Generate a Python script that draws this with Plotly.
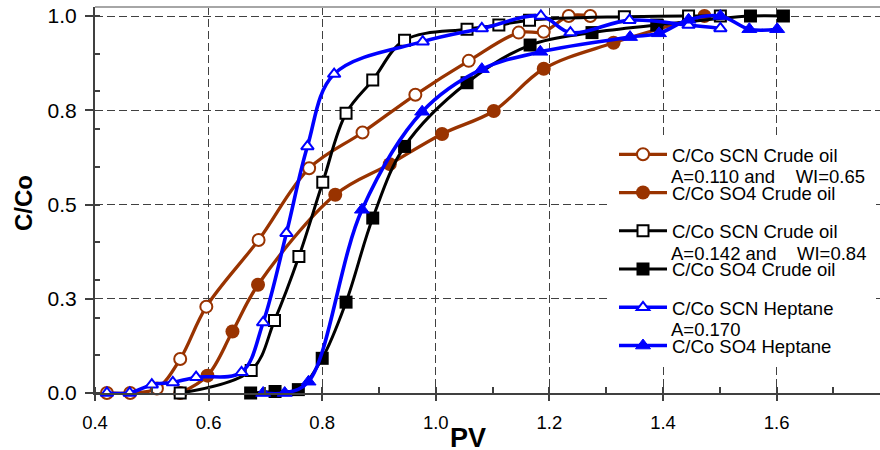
import plotly.graph_objects as go

# ---------------- data ----------------
brown_scn_x = [0.421, 0.462, 0.509, 0.550, 0.596, 0.688, 0.777, 0.871, 0.964, 1.058, 1.146, 1.190, 1.234, 1.272]
brown_scn_y = [0.000, 0.000, 0.012, 0.090, 0.229, 0.406, 0.596, 0.691, 0.791, 0.881, 0.956, 0.958, 1.000, 1.000]

brown_so4_x = [0.550, 0.598, 0.642, 0.687, 0.823, 0.919, 1.011, 1.102, 1.190, 1.313, 1.473]
brown_so4_y = [0.000, 0.046, 0.163, 0.287, 0.526, 0.607, 0.687, 0.748, 0.860, 0.929, 1.000]

black_scn_x = [0.550, 0.675, 0.716, 0.759, 0.801, 0.842, 0.889, 0.945, 1.055, 1.111, 1.165, 1.332, 1.445, 1.501]
black_scn_y = [0.000, 0.060, 0.192, 0.362, 0.559, 0.742, 0.830, 0.936, 0.965, 0.976, 0.989, 0.998, 1.000, 1.000]

black_so4_x = [0.674, 0.717, 0.758, 0.800, 0.842, 0.889, 0.945, 1.055, 1.166, 1.275, 1.389, 1.554, 1.612]
black_so4_y = [0.000, 0.004, 0.009, 0.092, 0.241, 0.464, 0.654, 0.823, 0.923, 0.956, 0.976, 1.000, 1.000]

blue_scn_x = [0.421, 0.461, 0.500, 0.537, 0.578, 0.658, 0.696, 0.737, 0.774, 0.821, 0.977, 1.081, 1.185, 1.237, 1.341, 1.445, 1.501]
blue_scn_y = [0.000, 0.000, 0.022, 0.028, 0.042, 0.055, 0.187, 0.424, 0.654, 0.846, 0.932, 0.967, 1.000, 0.956, 0.989, 0.976, 0.967]

blue_so4_x = [0.696, 0.734, 0.776, 0.870, 0.976, 1.081, 1.184, 1.342, 1.393, 1.445, 1.501, 1.552, 1.601]
blue_so4_y = [0.000, 0.000, 0.030, 0.486, 0.746, 0.859, 0.905, 0.944, 0.954, 0.990, 1.000, 0.965, 0.965]

series_names = ["C/Co SCN Crude oil", "C/Co SO4 Crude oil",
                "C/Co SCN Crude oil", "C/Co SO4 Crude oil",
                "C/Co SCN Heptane", "C/Co SO4 Heptane"]
group_notes = ["A=0.110 and&nbsp;&nbsp;&nbsp; WI=0.65",
               "A=0.142 and&nbsp;&nbsp;&nbsp; WI=0.84",
               "A=0.170"]

y_tickvals = [0, 0.25, 0.5, 0.75, 1.0]
y_ticktext = ["0.0", "0.3", "0.5", "0.8", "1.0"]

x_title = "PV"
y_title = "C/Co"

# ---------------- styling ----------------
BROWN = "#993300"
BLACK = "#000000"
BLUE = "#0000FF"
FONT = "Liberation Sans, Arial, sans-serif"
AXC = "#404040"
LEG_FS = 18.5

W, H = 880, 450
ML, MR, MT, MB = 95, 0, 7, 57

styles = [
    dict(color=BROWN, width=3.3, symbol="circle", size=12, fill="white", lw=2),
    dict(color=BROWN, width=3.3, symbol="circle", size=14, fill=BROWN, lw=0),
    dict(color=BLACK, width=3.0, symbol="square", size=11, fill="white", lw=2),
    dict(color=BLACK, width=3.0, symbol="square", size=13, fill=BLACK, lw=0),
    dict(color=BLUE, width=3.6, symbol="triangle-up", size=11, fill="white", lw=2),
    dict(color=BLUE, width=3.6, symbol="triangle-up", size=13, fill=BLUE, lw=1),
]
xs = [brown_scn_x, brown_so4_x, black_scn_x, black_so4_x, blue_scn_x, blue_so4_x]
ys = [brown_scn_y, brown_so4_y, black_scn_y, black_so4_y, blue_scn_y, blue_so4_y]

fig = go.Figure()
for i, (x, y, name, st) in enumerate(zip(xs, ys, series_names, styles)):
    fig.add_trace(go.Scatter(
        x=x, y=y, name=name, mode="lines+markers",
        legendgroup=f"g{i}",
        line=dict(color=st["color"], width=st["width"], shape="spline", smoothing=1.0),
        marker=dict(symbol=st["symbol"], size=st["size"], color=st["fill"],
                    line=dict(color=st["color"], width=st["lw"])),
        cliponaxis=False,
    ))

plot_h = H - MT - MB
plot_w = W - ML - MR


def px_to_paper_x(px):
    return (px - ML) / plot_w


def px_to_paper_y(py):
    return (H - MB - py) / plot_h


annotations = []
note_y_px = [176.7, 253.3, 329.3]
for note, ypx in zip(group_notes, note_y_px):
    annotations.append(dict(
        text=note, xref="paper", yref="paper",
        x=px_to_paper_x(669), y=px_to_paper_y(ypx),
        xanchor="left", yanchor="middle", showarrow=False,
        font=dict(family=FONT, size=LEG_FS, color="black")))

annotations.append(dict(
    text=f"<b>{x_title}</b>", xref="paper", yref="paper",
    x=px_to_paper_x(468), y=px_to_paper_y(438), xanchor="center", yanchor="middle",
    showarrow=False, font=dict(family=FONT, size=27, color="black")))
annotations.append(dict(
    text=f"<b>{y_title}</b>", xref="paper", yref="paper", textangle=-90,
    x=px_to_paper_x(23), y=px_to_paper_y(203), xanchor="center", yanchor="middle",
    showarrow=False, font=dict(family=FONT, size=24, color="black")))

shapes = [
    # white box behind the legend
    dict(type="rect", xref="paper", yref="paper", layer="above",
         x0=px_to_paper_x(608), x1=px_to_paper_x(876),
         y0=px_to_paper_y(363), y1=px_to_paper_y(137),
         fillcolor="white", line=dict(width=0)),
    # light grey top frame
    dict(type="line", xref="paper", yref="paper", layer="above",
         x0=0, x1=1, y0=1, y1=1, line=dict(color="#a6a6a6", width=2)),
]

item_h = max(LEG_FS * 1.3, 16) + 3
gap = 38.25 - item_h

fig.update_layout(
    width=W, height=H,
    margin=dict(l=ML, r=MR, t=MT, b=MB, pad=0, autoexpand=False),
    paper_bgcolor="white", plot_bgcolor="white",
    font=dict(family=FONT, color="black"),
    showlegend=True,
    legend=dict(
        x=px_to_paper_x(614), y=px_to_paper_y(154.3 - 5 - item_h / 2),
        xanchor="left", yanchor="top",
        bgcolor="rgba(0,0,0,0)", borderwidth=0,
        traceorder="grouped", tracegroupgap=gap,
        itemwidth=48,
        font=dict(family=FONT, size=LEG_FS, color="black"),
    ),
    annotations=annotations,
    shapes=shapes,
)

fig.update_xaxes(
    range=[0.4, 0.4 + plot_w / 568.0], automargin=False,
    tick0=0.4, dtick=0.2, tickformat=".1f",
    ticks="outside", ticklen=6, tickwidth=1.5, tickcolor=AXC,
    ticklabelstandoff=6,
    tickfont=dict(family=FONT, size=18.5, color="black"),
    showline=True, linecolor=AXC, linewidth=2,
    showgrid=True, gridcolor="#404040", gridwidth=1, griddash="8px,4px",
    zeroline=False,
    minor=dict(dtick=0.1, tick0=0.4, ticks="inside", ticklen=6, tickwidth=1.5,
               tickcolor=AXC, showgrid=False),
)
fig.update_yaxes(
    range=[0, (H - MB - MT) / 377.0], automargin=False,
    tickvals=y_tickvals, ticktext=y_ticktext,
    ticks="outside", ticklen=8, tickwidth=1.5, tickcolor=AXC,
    ticklabelstandoff=4,
    tickfont=dict(family=FONT, size=21, color="black"),
    showline=True, linecolor=AXC, linewidth=2,
    showgrid=True, gridcolor="#404040", gridwidth=1, griddash="8px,4px",
    zeroline=False,
    minor=dict(dtick=0.1, tick0=0, ticks="inside", ticklen=5, tickwidth=1.5,
               tickcolor=AXC, showgrid=False),
)

fig.write_html("out.html",
               config={"displayModeBar": False},
               post_script="document.body.style.margin='0';document.body.style.padding='0';")
